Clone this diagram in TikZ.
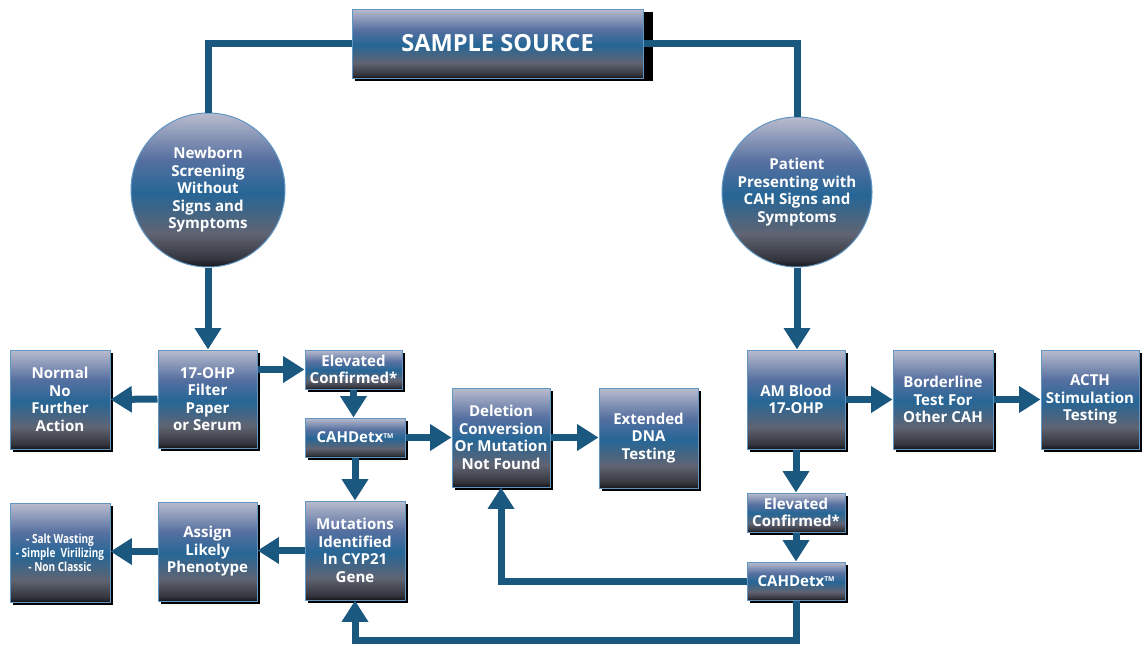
\documentclass[tikz,border=0pt]{standalone}
\usepackage{fontspec}
\setmainfont{Open Sans}
\newfontfamily\narrowf{Open Sans}[FakeStretch=0.8]
\usetikzlibrary{arrows.meta,shadows}
\definecolor{linecol}{RGB}{27,88,128}
\definecolor{bordercol}{RGB}{95,150,195}
\definecolor{sa}{RGB}{22,22,26}
\definecolor{sb}{RGB}{96,100,114}
\definecolor{sc}{RGB}{38,102,150}
\definecolor{sd}{RGB}{86,112,160}
\definecolor{se}{RGB}{186,188,206}
\pgfdeclareverticalshading{boxshade}{100bp}{color(0bp)=(sa); color(25bp)=(sa); color(27.5bp)=(sa!60!sb); color(36bp)=(sb); color(49bp)=(sc); color(60bp)=(sd); color(72bp)=(se!80!sd); color(75bp)=(se); color(100bp)=(se)}
\tikzset{
  lab/.style={text=white, align=center, font=\fontsize{11.3pt}{13.1pt}\selectfont\bfseries, inner sep=0pt},
  box/.style={lab, rectangle, draw=bordercol, line width=0.75pt, shade, shading=boxshade,
    drop shadow={shadow xshift=2.4pt, shadow yshift=-2pt, fill=black, opacity=1}},
  bx/.style 2 args={box, minimum width=#1*0.75pt, minimum height=#2*0.75pt},
  circ/.style={lab, circle, draw=bordercol, line width=0.75pt, shade, shading=boxshade, minimum size=#1*0.75pt},
  conn/.style={draw=linecol, line width=5.25pt},
  arr/.style={conn, -{Triangle[width=19pt,length=16pt]}},
}
\newcommand{\tmk}{\raisebox{0.55ex}{\fontsize{5pt}{5pt}\selectfont TM}}
\begin{document}
\begin{tikzpicture}[x=0.75pt,y=-0.75pt]
\useasboundingbox (0,0) rectangle (1144,646);
% nodes
\node[bx={291}{69}, font=\fontsize{17.7pt}{20pt}\selectfont\bfseries,
  drop shadow={shadow xshift=7.5pt, shadow yshift=-2.25pt, fill=black, opacity=1}] (src) at (497.5,43.5) {SAMPLE SOURCE};
\node[circ=154] (nb) at (208,190) {Newborn\\Screening\\Without\\Signs and\\Symptoms};
\node[circ=150] (pt) at (797,192) {Patient\\Presenting with\\CAH Signs and\\Symptoms};
\node[bx={99}{98}] (ohp) at (207.5,399) {17-OHP\\Filter\\Paper\\or Serum};
\node[bx={100}{99}] (norm) at (60,399.5) {Normal\\No\\Further\\Action};
\node[bx={97}{39}] (el1) at (353.5,369.5) {Elevated\\Confirmed*};
\node[bx={100}{39}] (cah1) at (355,437.5) {CAHDetx\tmk};
\node[bx={98}{99}] (del) at (501,437.5) {Deletion\\Conversion\\Or Mutation\\Not Found};
\node[bx={99}{100}] (ext) at (648.5,438) {Extended\\DNA\\Testing};
\node[bx={98}{99}] (am) at (796,399.5) {AM Blood\\17-OHP};
\node[bx={100}{99}] (bord) at (943,399.5) {Borderline\\Test For\\Other CAH};
\node[bx={98}{99}] (acth) at (1090,399.5) {ACTH\\Stimulation\\Testing};
\node[bx={98}{39}] (el2) at (796,512.5) {Elevated\\Confirmed*};
\node[bx={98}{38}] (cah2) at (796,581) {CAHDetx\tmk};
\node[bx={100}{99}, font=\narrowf\fontsize{9.4pt}{10.5pt}\selectfont\bfseries] (salt) at (60,552.5) {- Salt Wasting\\- Simple\ \ Virilizing\\- Non Classic};
\node[bx={99}{99}] (asg) at (207.5,551.5) {Assign\\Likely\\Phenotype};
\node[bx={100}{99}] (mut) at (355,550.5) {Mutations\\Identified\\In CYP21\\Gene};
\coordinate (bot) at (355,640);
% connectors
\draw[conn] (src.west) -| (nb.north);
\draw[conn] (src.east) -| (pt.north);
\draw[arr] (nb.south) -- (nb.south |- ohp.north);
\draw[arr] (ohp.west) -- (norm.east);
\draw[arr] (ohp.east |- el1.west) -- (el1.west);
\draw[arr] (el1.south) -- (el1.south |- cah1.north);
\draw[arr] (cah1.east) -- (del.west);
\draw[arr] (cah1.south) -- (mut.north);
\draw[arr] (del.east) -- (del.east -| ext.west);
\draw[arr] (mut.west) -- (mut.west -| asg.east);
\draw[arr] (asg.west) -- (asg.west -| salt.east);
\draw[arr] (pt.south) -- (pt.south |- am.north);
\draw[arr] (am.east) -- (bord.west);
\draw[arr] (bord.east) -- (acth.west);
\draw[arr] (am.south) -- (el2.north);
\draw[arr] (el2.south) -- (cah2.north);
\draw[arr] (cah2.west) -| (del.south);
\draw[arr] (cah2.south) |- (bot) -- (mut.south);
\end{tikzpicture}
\end{document}
